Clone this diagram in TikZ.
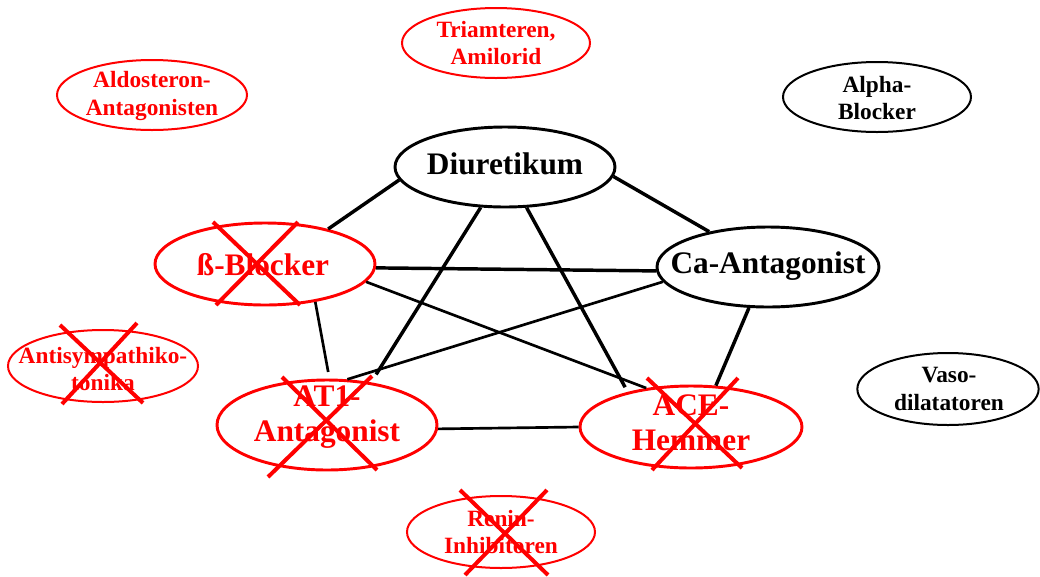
\documentclass[tikz,border=0pt]{standalone}
\usepackage{fontspec}
\setmainfont{Liberation Serif}
\usetikzlibrary{shapes.geometric}
\tikzset{
    oval/.style={ellipse, draw, inner sep=0pt},
    bigoval/.style={oval, line width=2.2pt},
    smalloval/.style={oval, line width=1.5pt},
    bigtext/.style={font=\bfseries\fontsize{23.5}{26}\selectfont, align=center},
    smalltext/.style={font=\bfseries\fontsize{17.5}{20.5}\selectfont, align=center},
    link/.style={line width=2.6pt},
    thinlink/.style={line width=2pt},
    cross/.style={red, line width=3pt},
}

\begin{document}
\begin{tikzpicture}[x=0.75pt, y=-0.75pt]
        \useasboundingbox (0, 0) rectangle (1040, 576);

        % main classes
        \node [bigoval, minimum width=165pt, minimum height=60pt] (dia) at (505, 167) {};
        \node [bigoval, minimum width=166.5pt, minimum height=60pt] (ca) at (768, 267) {};
        \node [bigoval, red, minimum width=165pt, minimum height=61.5pt] (beta) at (265, 264) {};
        \node [bigoval, red, minimum width=165pt, minimum height=67.5pt] (at1) at (327, 425) {};
        \node [bigoval, red, minimum width=166.5pt, minimum height=61.5pt] (ace) at (691, 427) {};

        \node [bigtext] (dia-t) at (505, 164) {Diuretikum};
        \node [bigtext] (ca-t) at (768, 266) {Ca-Antagonist};
        \node [bigtext, red] (beta-t) at (263, 265) {ß-Blocker};
        \node [bigtext, red] (at1-t) at (327, 417) {AT1-\\Antagonist};
        \node [bigtext, red] (ace-t) at (691, 423) {ACE-\\Hemmer};

        % other classes
        \node [smalloval, red, minimum width=141pt, minimum height=52.5pt] (tri) at (496, 43) {};
        \node [smalloval, red, minimum width=142.5pt, minimum height=52.5pt] (ald) at (152, 95) {};
        \node [smalloval, minimum width=141pt, minimum height=52.5pt] (alpha) at (877, 97) {};
        \node [smalloval, red, minimum width=142.5pt, minimum height=54pt] (anti) at (103, 366) {};
        \node [smalloval, minimum width=136pt, minimum height=54pt] (vaso) at (948, 389) {};
        \node [smalloval, red, minimum width=141pt, minimum height=54pt] (renin) at (501, 532) {};

        \node [smalltext, red] (tri-t) at (496, 43) {Triamteren,\\Amilorid};
        \node [smalltext, red] (ald-t) at (152, 96) {Aldosteron-\\Antagonisten};
        \node [smalltext] (alpha-t) at (877, 98) {Alpha-\\Blocker};
        \node [smalltext, red] (anti-t) at (103, 369) {Antisympathiko-\\tonika};
        \node [smalltext] (vaso-t) at (949, 389) {Vaso-\\dilatatoren};
        \node [smalltext, red] (renin-t) at (501, 532) {Renin-\\Inhibitoren};

        % combinations
        \draw [link] (dia.187) -- (beta.29);
        \draw [link] (dia.355) -- (ca.149);
        \draw [link, shorten >=7pt] (dia.239) -- (at1.44);
        \draw [link, shorten >=4pt] (dia.298) -- (ace.151);
        \draw [link] (beta.358) -- (ca.182);
        \draw [link] (ca.245) -- (ace.59);
        \draw [thinlink] (beta.350) -- (ace.139);
        \draw [thinlink, shorten >=5pt] (beta.323) -- (at1.87);
        \draw [thinlink] (ca.188) -- (at1.66);
        \draw [thinlink] (at1.358) -- (ace.180);

        % crossed out
        \draw [cross] (213, 222) -- (300, 305) (298, 222) -- (216, 305);
        \draw [cross] (60, 325) -- (143, 403) (137, 323) -- (62, 404);
        \draw [cross] (282, 377) -- (377, 470) (372, 376) -- (268, 477);
        \draw [cross] (647, 378) -- (742, 468) (738, 378) -- (652, 470);
        \draw [cross] (460, 490) -- (548, 575) (547, 490) -- (465, 575);
    \end{tikzpicture}
\end{document}
